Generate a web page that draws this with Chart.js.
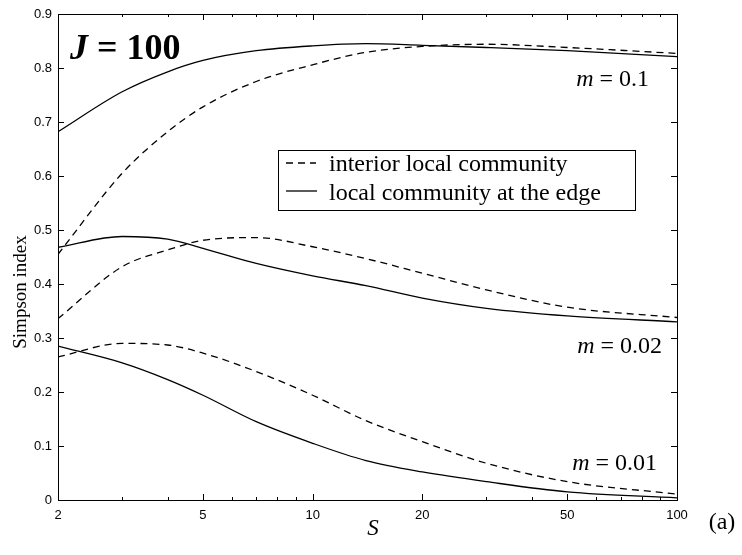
<!DOCTYPE html>
<html>
<head>
<meta charset="utf-8">
<script src="https://cdn.jsdelivr.net/npm/chart.js@4"></script>
<style>
  body { margin: 0; background: #fff; }
  canvas { display: block; }
</style>
</head>
<body>
<canvas id="chart" width="742" height="555"></canvas>
<script>
// species number S (log axis)
const S = [2, 3, 4, 5, 7, 10, 14, 20, 30, 50, 100];

// Simpson index, edge (solid) and interior (dashed) for each m
const edge01 = [0.682, 0.756, 0.793, 0.814, 0.832, 0.841, 0.845, 0.842, 0.838, 0.832, 0.821];
const interior01 = [0.455, 0.605, 0.682, 0.728, 0.775, 0.806, 0.829, 0.840, 0.844, 0.838, 0.827];
const edge002 = [0.468, 0.488, 0.483, 0.466, 0.438, 0.415, 0.397, 0.374, 0.355, 0.341, 0.330];
const interior002 = [0.336, 0.432, 0.463, 0.481, 0.486, 0.469, 0.447, 0.420, 0.389, 0.357, 0.338];
const edge001 = [0.285, 0.254, 0.223, 0.194, 0.145, 0.105, 0.073, 0.052, 0.034, 0.015, 0.004];
const interior001 = [0.265, 0.290, 0.287, 0.272, 0.238, 0.194, 0.147, 0.108, 0.068, 0.034, 0.011];

const xTicks = [2, 5, 10, 20, 50, 100];
const xMinor = [3, 4, 6, 7, 8, 9, 30, 40, 60, 70, 80, 90];
const legendLabels = ["interior local community", "local community at the edge"];

const serif = "'Liberation Serif', 'Times New Roman', serif";
const sans = "'Liberation Sans', Arial, sans-serif";

function pts(ys) {
  return S.map((s, i) => ({ x: s, y: ys[i] }));
}

function line(ys, dashed) {
  return {
    data: pts(ys),
    borderColor: "#000",
    borderWidth: 1.3,
    borderDash: dashed ? [7, 5] : [],
    pointRadius: 0,
    fill: false,
    cubicInterpolationMode: "monotone"
  };
}

const decorations = {
  id: "decorations",
  afterDraw(chart) {
    const ctx = chart.ctx;
    const a = chart.chartArea;
    const xs = chart.scales.x;
    const ys = chart.scales.y;
    ctx.save();
    ctx.strokeStyle = "#000";
    ctx.lineWidth = 1;
    ctx.setLineDash([]);

    // frame top / right
    ctx.beginPath();
    ctx.moveTo(a.left, a.top + 0.5);
    ctx.lineTo(a.right + 0.5, a.top + 0.5);
    ctx.lineTo(a.right + 0.5, a.bottom);
    ctx.stroke();

    // inward ticks
    ctx.beginPath();
    xTicks.forEach(v => {
      const px = Math.round(xs.getPixelForValue(v)) + 0.5;
      ctx.moveTo(px, a.bottom); ctx.lineTo(px, a.bottom - 6);
      ctx.moveTo(px, a.top); ctx.lineTo(px, a.top + 6);
    });
    xMinor.forEach(v => {
      const px = Math.round(xs.getPixelForValue(v)) + 0.5;
      ctx.moveTo(px, a.bottom); ctx.lineTo(px, a.bottom - 3);
      ctx.moveTo(px, a.top); ctx.lineTo(px, a.top + 3);
    });
    for (let i = 0; i <= 9; i++) {
      const py = Math.round(ys.getPixelForValue(i / 10)) + 0.5;
      ctx.moveTo(a.left, py); ctx.lineTo(a.left + 6, py);
      ctx.moveTo(a.right, py); ctx.lineTo(a.right - 6, py);
    }
    ctx.stroke();

    // legend box
    ctx.fillStyle = "#fff";
    ctx.fillRect(278, 150, 358, 61);
    ctx.strokeRect(278.5, 150.5, 357, 60);
    ctx.lineWidth = 1.3;
    ctx.beginPath();
    ctx.setLineDash([7, 5]);
    ctx.moveTo(286, 163); ctx.lineTo(316, 163);
    ctx.stroke();
    ctx.beginPath();
    ctx.setLineDash([]);
    ctx.moveTo(286, 191); ctx.lineTo(317, 191);
    ctx.stroke();

    ctx.fillStyle = "#000";
    ctx.textBaseline = "alphabetic";
    ctx.textAlign = "left";
    ctx.font = "24px " + serif;
    ctx.fillText(legendLabels[0], 329, 171);
    ctx.fillText(legendLabels[1], 329, 200);

    // J = 100
    ctx.font = "italic bold 36px " + serif;
    ctx.fillText("J", 70, 59);
    const jw = ctx.measureText("J").width;
    ctx.font = "bold 36px " + serif;
    ctx.fillText(" = 100", 70 + jw, 59);

    // m labels
    function mLabel(text, xRight, y) {
      ctx.font = "24px " + serif;
      const w = ctx.measureText(" = " + text).width;
      ctx.fillText(" = " + text, xRight - w, y);
      ctx.font = "italic 24px " + serif;
      const mw = ctx.measureText("m").width;
      ctx.fillText("m", xRight - w - mw, y);
    }
    mLabel("0.1", 649, 86);
    mLabel("0.02", 662, 353);
    mLabel("0.01", 657, 470);

    // axis titles
    ctx.font = "italic 23px " + serif;
    ctx.textAlign = "center";
    ctx.fillText("S", 373, 535);

    ctx.font = "24px " + serif;
    ctx.fillText("(a)", 722, 529);

    ctx.save();
    ctx.translate(26, 292);
    ctx.rotate(-Math.PI / 2);
    ctx.font = "19px " + serif;
    ctx.fillText("Simpson index", 0, 0);
    ctx.restore();

    ctx.restore();
  }
};

new Chart(document.getElementById("chart").getContext("2d"), {
  type: "line",
  data: {
    datasets: [
      line(interior01, true),
      line(edge01, false),
      line(interior002, true),
      line(edge002, false),
      line(interior001, true),
      line(edge001, false)
    ]
  },
  options: {
    responsive: false,
    animation: false,
    layout: { padding: { top: 14, right: 65, left: 0, bottom: 0 } },
    plugins: { legend: { display: false }, tooltip: { enabled: false } },
    scales: {
      x: {
        type: "logarithmic",
        min: 2,
        max: 100,
        afterBuildTicks: s => { s.ticks = xTicks.map(v => ({ value: v })); },
        afterFit: s => { s.height = 55; },
        grid: { display: false, drawTicks: false },
        border: { color: "#000", width: 1 },
        ticks: {
          autoSkip: false,
          maxRotation: 0,
          padding: 8,
          color: "#000",
          font: { family: sans, size: 13 },
          callback: v => String(v)
        }
      },
      y: {
        min: 0,
        max: 0.9,
        afterFit: s => { s.width = 58; },
        grid: { display: false, drawTicks: false },
        border: { color: "#000", width: 1 },
        ticks: {
          stepSize: 0.1,
          padding: 6,
          color: "#000",
          font: { family: sans, size: 13 },
          callback: v => String(Math.round(v * 10) / 10)
        }
      }
    }
  },
  plugins: [decorations]
});
</script>
</body>
</html>
